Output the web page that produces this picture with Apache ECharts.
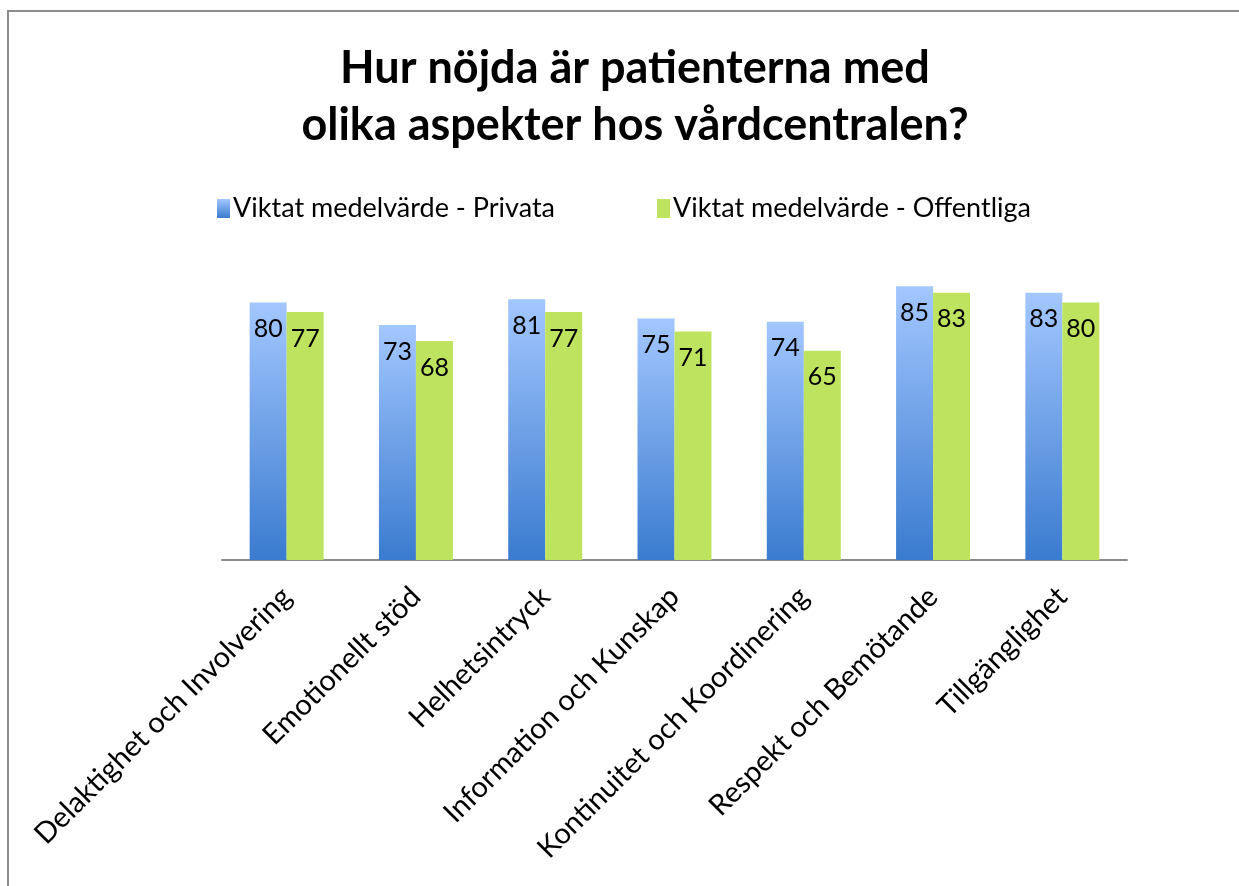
<!DOCTYPE html>
<html style="height: 100%">

<head>
    <meta charset="utf-8">
    <script src="https://cdn.jsdelivr.net/npm/echarts@6/dist/echarts.min.js"></script>
</head>

<body style="height: 100%; margin: 0; background: #fff">
    <div id="main" style="width: 1239px;height:886px;"></div>
    <script type="text/javascript">
        var categories = ['Delaktighet och Involvering', 'Emotionellt stöd', 'Helhetsintryck',
            'Information och Kunskap', 'Kontinuitet och Koordinering', 'Respekt och Bemötande', 'Tillgänglighet'];
        var privata = [80, 73, 81, 75, 74, 85, 83];
        var offentliga = [77, 68, 77, 71, 65, 83, 80];

        var font = 'Lato, "Open Sans", sans-serif';
        var myChart = echarts.init(document.getElementById('main'));
        myChart.setOption({
            animation: false,
            graphic: [{
                // frame: only left and top edges are visible in the picture
                type: 'polyline',
                shape: { points: [[8, 900], [8, 11], [1250, 11]] },
                style: { fill: 'none', stroke: '#8c8c8c', lineWidth: 2 }
            }],
            title: {
                text: 'Hur nöjda är patienterna med\nolika aspekter hos vårdcentralen?',
                left: 630,
                textAlign: 'center',
                top: 35,
                textStyle: {
                    fontFamily: font,
                    fontSize: 45,
                    fontWeight: 'bold',
                    color: '#000',
                    lineHeight: 57
                }
            },
            legend: {
                top: 190,
                left: 212,
                itemGap: 102,
                itemWidth: 13,
                itemHeight: 19,
                icon: 'rect',
                textStyle: { fontFamily: font, fontSize: 27, color: '#000', padding: [0, 0, 0, -2] },
                data: ['Viktat medelvärde - Privata', 'Viktat medelvärde - Offentliga']
            },
            grid: { left: 222, right: 112, top: 238, bottom: 326 },
            xAxis: {
                type: 'category',
                data: categories,
                axisTick: { show: false },
                axisLine: { lineStyle: { color: '#8c8c8c', width: 2 } },
                axisLabel: {
                    rotate: 45,
                    interval: 0,
                    margin: 32,
                    fontFamily: font,
                    fontSize: 29,
                    color: '#000'
                }
            },
            yAxis: {
                type: 'value',
                min: 0,
                max: 100,
                show: false,
                splitLine: { show: false }
            },
            series: [{
                name: 'Viktat medelvärde - Privata',
                type: 'bar',
                data: privata,
                barWidth: 37,
                barGap: '0%',
                itemStyle: {
                    color: new echarts.graphic.LinearGradient(0, 0, 0, 1, [
                        { offset: 0, color: '#a3c7ff' },
                        { offset: 1, color: '#3a7bcf' }
                    ])
                },
                label: {
                    show: true,
                    position: 'insideTop',
                    distance: 14,
                    fontFamily: font,
                    fontSize: 25,
                    color: '#000'
                }
            }, {
                name: 'Viktat medelvärde - Offentliga',
                type: 'bar',
                data: offentliga,
                barWidth: 37,
                itemStyle: { color: '#bde35f' },
                label: {
                    show: true,
                    position: 'insideTop',
                    distance: 14,
                    fontFamily: font,
                    fontSize: 25,
                    color: '#000'
                }
            }]
        });
    </script>
</body>

</html>
